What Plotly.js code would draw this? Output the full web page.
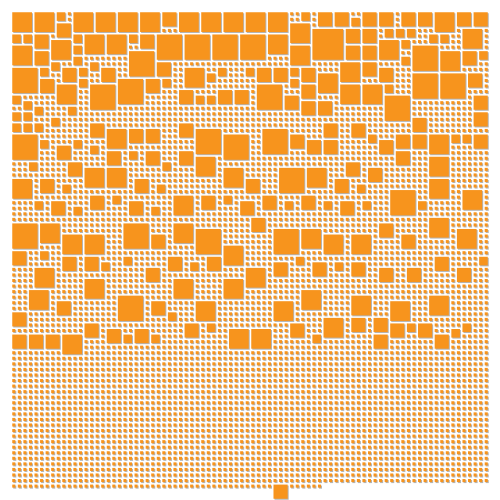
<!DOCTYPE html>
<html><head><meta charset="utf-8">
<script src="https://cdn.plot.ly/plotly-3.0.1.min.js"></script>
<style>html,body{margin:0;padding:0;background:#fff}#chart{width:500px;height:500px}</style>
</head><body><div id="chart"></div>
<script>
// Grid of 86 columns; each item = [column, row, size in cells]
const GRID_COLS = 86;
const GRID_ROWS_SHOWN = 88;

const bandRows0to9 = [
 [0,0,4],[4,0,4],[8,0,2],[8,2,3],[11,0,4],[15,0,4],[19,0,4],[23,0,4],[27,0,3],
 [30,0,4],[34,0,4],[38,0,4],[42,0,4],[46,0,4],[52,0,2],[55,0,3],[58,0,3],
 [61,1,2],[63,0,3],[66,0,3],[70,0,3],[73,0,3],[76,0,4],[80,0,3],[83,0,3],
 [0,4,2],[2,4,2],[4,4,3],[7,5,4],[11,4,2],[11,6,2],[13,4,4],[17,4,4],[21,4,2],[23,4,3],[26,4,5],
 [31,4,5],[36,4,5],[41,4,5],[46,4,4],[50,2,4],[50,6,4],[54,3,6],
 [60,3,3],[60,6,3],[63,3,3],[63,6,3],[67,3,2],[69,3,2],[71,3,2],[66,5,4],[70,5,2],[70,8,2],
 [72,6,5],[75,4,2],[77,4,2],[81,3,4],[77,7,4],[81,7,3],[84,7,2],
 [0,6,4],[4,7,3],[7,9,2],[11,8,2],[14,9,2],[21,7,5],[26,9,3]
];
const bandRows10to27 = [
 [0,10,5],[5,10,2],[5,12,3],[8,13,4],[9,10,3],[12,10,2],[12,12,2],[14,13,5],[16,10,3],
 [19,12,5],[24,12,3],[27,12,2],
 [0,15,2],[2,16,2],[0,18,2],[2,18,2],[4,17,2],[0,20,2],[2,20,2],[4,20,2],[0,22,5],[5,23,2],
 [7,19,2],[10,17,2],[14,20,3],[17,21,4],[21,21,3],[24,21,3],
 [31,10,4],[35,11,2],[37,10,2],[42,10,2],[44,10,3],[47,10,3],[50,10,2],[50,12,2],[52,10,3],
 [55,11,4],[44,13,5],[37,14,3],[40,14,3],[30,14,3],[33,15,2],[35,15,2],[49,15,3],[52,13,3],
 [52,16,3],[55,16,3],
 [30,20,3],[33,21,5],[38,22,5],[45,21,5],[50,22,3],[53,23,3],[56,20,3],[56,23,3],[30,25,3],
 [59,9,4],[63,9,3],[59,13,4],[63,13,4],[66,10,3],[67,15,5],[67,13,2],[72,11,5],[77,11,5],
 [82,11,3],[83,15,3],[83,18,3],[83,22,3],[61,20,3],[72,19,3],[75,22,4],[72,22,3],[69,22,3],
 [66,23,3],[64,22,2],[79,22,2],[81,22,2],[75,26,4],[69,25,3],[60,27,3],
 [8,24,3],[11,23,2],[14,24,2],[17,25,3],[21,25,2],[24,25,3],[3,27,2],[10,27,3],[27,27,2]
];
const bandRows28to61 = [
 [48,28,5],[33,26,4],[29,33,4],[68,32,5],[13,28,4],[17,28,4],[38,28,4],[53,28,4],[75,26,4],[75,30,4],
 [81,32,4],[0,30,4],[5,30,3],[9,31,2],[22,30,3],[26,31,2],[42,30,3],[58,30,3],[62,31,2],[64,28,3],
 [0,38,5],[5,38,4],[9,40,4],[13,40,4],[20,38,5],[29,38,4],[33,39,5],[38,42,4],[47,39,5],[52,39,4],
 [56,40,4],[61,40,4],[75,37,4],[80,39,4],[66,38,3],[70,40,3],[25,40,3],[43,37,3],
 [4,46,4],[3,50,4],[9,44,3],[13,48,4],[19,51,5],[29,48,4],[33,52,4],[38,48,4],[42,46,4],[47,52,4],
 [52,50,4],[56,55,4],[61,51,4],[68,52,4],[75,51,4],[80,46,3],[24,46,3],[66,46,3],[71,46,3],
 [8,52,3],[25,52,3],[84,44,2],[16,45,2],
 [4,34,2],[7,34,3],[11,35,2],[14,33,3],[18,33,2],[21,34,3],[25,35,2],[34,33,3],[38,33,2],[41,34,3],
 [45,33,3],[49,34,2],[52,33,3],[56,34,2],[59,34,3],[63,34,2],[73,34,2],
 [0,43,3],[5,43,2],[13,44,3],[20,44,2],[28,44,3],[32,45,2],[35,44,3],[47,45,3],[51,44,2],[54,45,3],
 [58,45,2],[61,45,3],[76,44,3],
 [0,54,3],[10,54,2],[28,54,2],[31,56,3],[35,56,2],[50,56,3],[54,58,2],
 [0,58,3],[3,58,3],[6,58,3],[9,58,4],[13,56,3],[17,57,3],[20,58,2],[22,57,3],[25,58,2],
 [39,57,4],[43,57,4],
 [58,57,2],[61,55,3],[65,55,3],[65,58,3],[68,56,3],[71,56,2],[73,56,3],[76,58,3],[79,57,2],[81,56,2]
];
const finalItem = [[47,85,3]];
// unit items fill the grid row by row up to this cell
const lastUnitRow = 85, lastUnitCol = 55;

const bigItems = [].concat(bandRows0to9, bandRows10to27, bandRows28to61, finalItem);
const occupied = new Set();
const placed = [];
bigItems.forEach(([c, r, s]) => {
  let free = true;
  for (let i = 0; i < s; i++) for (let j = 0; j < s; j++) if (occupied.has((r + j) * GRID_COLS + c + i)) free = false;
  if (!free) return;
  for (let i = 0; i < s; i++) for (let j = 0; j < s; j++) occupied.add((r + j) * GRID_COLS + c + i);
  placed.push([c, r, s]);
});
const items = placed.slice();
for (let r = 0; r <= lastUnitRow; r++) {
  for (let c = 0; c < GRID_COLS; c++) {
    if (r === lastUnitRow && c > lastUnitCol) break;
    if (!occupied.has(r * GRID_COLS + c)) items.push([c, r, 1]);
  }
}

const W = 500, H = 500, ML = 11, MR = 11, MT = 11, MB = 0;
const pitch = (W - ML - MR) / GRID_COLS;
const gap = 2.5;
const off = 1 / pitch; // 1px shadow offset in data units

const xs = items.map(d => d[0] + d[2] / 2);
const ys = items.map(d => d[1] + d[2] / 2);
const sz = items.map(d => d[2] * pitch - gap);

const shadow = {
  type: 'scatter', mode: 'markers', hoverinfo: 'skip',
  x: xs.map(v => v + off), y: ys.map(v => v + off),
  marker: {symbol: 'square', size: sz, color: '#b4b4b4', opacity: 1, line: {width: 0}}
};
const main = {
  type: 'scatter', mode: 'markers', hoverinfo: 'skip',
  x: xs, y: ys,
  marker: {symbol: 'square', size: sz, color: '#f7941d', opacity: 1, line: {width: 0}}
};
const axis = {visible: false, showgrid: false, zeroline: false, fixedrange: true};
Plotly.newPlot('chart', [shadow, main], {
  width: W, height: H,
  margin: {l: ML, r: MR, t: MT, b: MB, pad: 0},
  paper_bgcolor: '#ffffff', plot_bgcolor: '#ffffff',
  showlegend: false,
  xaxis: Object.assign({range: [0, GRID_COLS]}, axis),
  yaxis: Object.assign({range: [GRID_ROWS_SHOWN, 0]}, axis)
}, {staticPlot: true, displayModeBar: false});
</script>
</body></html>
